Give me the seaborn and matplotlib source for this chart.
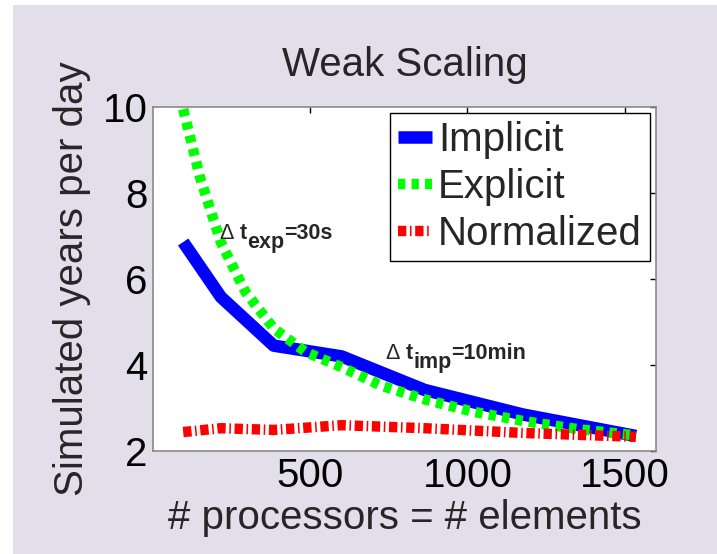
import matplotlib
matplotlib.use("Agg")
import matplotlib.pyplot as plt
from matplotlib.patches import Rectangle
import numpy as np
import pandas as pd
import seaborn as sns

# ---------------- data ----------------
procs_imp = [96, 216, 384, 600, 864, 1176, 1536]
implicit = [6.86, 5.58, 4.45, 4.20, 3.42, 2.85, 2.35]

procs_exp = [96, 150, 216, 294, 384, 486, 600, 726, 864, 1014, 1176, 1350, 1536]
explicit = [9.95, 8.35, 6.85, 5.70, 4.85, 4.30, 3.95, 3.52, 3.20, 2.92, 2.70, 2.51, 2.36]

procs_norm = [96, 216, 384, 600, 864, 1176, 1536]
normalized = [2.44, 2.53, 2.49, 2.60, 2.53, 2.42, 2.33]

series_labels = ["Implicit", "Explicit", "Normalized"]
x_ticks = [500, 1000, 1500]
y_ticks = [2, 4, 6, 8, 10]

title = "Weak Scaling"
xlabel = "# processors = # elements"
ylabel = "Simulated years per day"

# ---------------- style ----------------
sns.set_style("white")
plt.rcParams["font.family"] = ["Liberation Sans", "DejaVu Sans"]
FS = 29

W, H = 717, 554
fig = plt.figure(figsize=(W / 100, H / 100), dpi=100, facecolor="white")
fig.patches.append(Rectangle((13 / W, 0), 1, (H - 5) / H, transform=fig.transFigure,
                             facecolor="#E3DFEA", edgecolor="none", zorder=-10))
ax = fig.add_axes([153 / W, (H - 451) / H, (656 - 153) / W, (451 - 107) / H])
ax.set_facecolor("white")

sns.lineplot(x=procs_imp, y=implicit, ax=ax, color="#0000FF", linewidth=9,
             estimator=None, legend=False, label=series_labels[0])
sns.lineplot(x=procs_exp, y=explicit, ax=ax, color="#00FF00", linewidth=7.5,
             estimator=None, legend=False, label=series_labels[1])
sns.lineplot(x=procs_norm, y=normalized, ax=ax, color="#FF0000", linewidth=7.5,
             estimator=None, legend=False, label=series_labels[2])

lines = ax.get_lines()
lines[0].set_solid_capstyle("butt")
lines[1].set_linestyle((0, (0.7, 0.6)))
lines[2].set_linestyle((0, (0.8, 0.35, 0.15, 0.35)))
for ln in lines:
    ln.set_dash_capstyle("butt")

ax.set_xlim(0, 1600)
ax.set_ylim(2, 10)
ax.set_xticks(x_ticks)
ax.set_yticks(y_ticks)
ax.tick_params(direction="in", length=4.5, width=1, top=True, right=True,
               labelsize=FS, pad=4, colors="black")
for sp in ax.spines.values():
    sp.set_visible(True)
    sp.set_color("#8a8a8a")
    sp.set_linewidth(1.2)

ax.set_title(title, fontsize=FS, pad=22)
ax.set_xlabel(xlabel, fontsize=FS, labelpad=3)
ax.set_ylabel(ylabel, fontsize=FS, labelpad=8)

leg = ax.legend(handles=lines, labels=series_labels, loc="upper right", fontsize=FS,
                frameon=True, fancybox=False, framealpha=1, edgecolor="black",
                handlelength=0.85, handletextpad=0.15, labelspacing=0.22,
                borderpad=0.2, borderaxespad=0.15)
leg.get_frame().set_linewidth(1.0)

# annotations with full-size subscripts (MATLAB style)
fig.canvas.draw()
renderer = fig.canvas.get_renderer()


def sub_label(x, y, parts, size=15.5):
    off = 0.0
    for s, weight, dy, gap in parts:
        off += gap
        t = ax.annotate(s, xy=(x, y), xycoords="data", xytext=(off, dy),
                        textcoords="offset pixels", fontsize=size,
                        fontweight=weight, ha="left", va="baseline")
        off += t.get_window_extent(renderer).width


sub_label(211, 6.93, [("Δ", "normal", 0, 0), ("t", "bold", 0, 6),
                      ("exp", "bold", -9, 0), ("=30s", "bold", 0, 0)])
sub_label(740, 4.14, [("Δ", "normal", 0, 0), ("t", "bold", 0, 6),
                      ("imp", "bold", -9, 0), ("=10min", "bold", 0, 0)])

fig.savefig("out.png", dpi=100, facecolor="white")
